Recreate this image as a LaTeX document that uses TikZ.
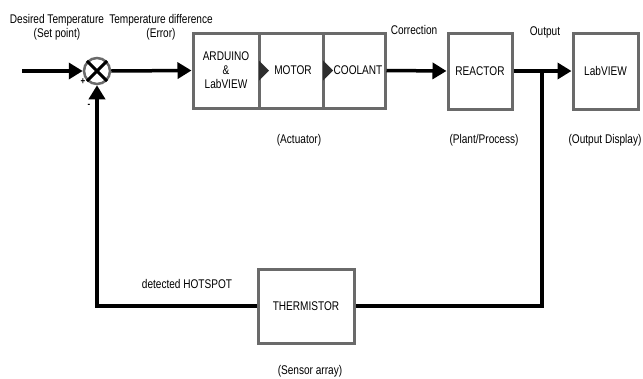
\documentclass[tikz,border=0pt]{standalone}
\usepackage{fontspec}
\setmainfont{Liberation Sans}[FakeStretch=0.8]
\usetikzlibrary{arrows.meta}
\definecolor{boxgrey}{HTML}{6A6A6A}
\definecolor{tipgrey}{HTML}{2E2E2E}
\newcommand{\lbl}{\fontsize{12.6}{14}\selectfont}
\tikzset{
  blk/.style={draw=boxgrey,line width=3pt,fill=white,inner sep=0pt,align=center,font=\lbl},
  sig/.style={line width=3.5pt,-{Triangle[length=14pt,width=16pt]}},
  wire/.style={line width=3.5pt},
  lbl/.style={font=\lbl,align=center,inner sep=0pt}
}

\begin{document}
\begin{tikzpicture}[x=1pt,y=-1pt]
\useasboundingbox (0,0) rectangle (643,378);
% summing junction
\node[draw=boxgrey,line width=2.5pt,circle,minimum size=26pt,inner sep=0pt] (sum) at (97,71) {};
\draw[line width=3pt] (sum.north west)--(sum.south east) (sum.north east)--(sum.south west);
% blocks
\node[blk,minimum width=66,minimum height=75] (ard) at (226,70.5) {ARDUINO\\\&\\LabVIEW};
\node[blk,minimum width=64,minimum height=75] (mot) at (291,70.5) {\hspace{4pt}MOTOR};
\node[blk,minimum width=62,minimum height=75] (cool) at (354,70.5) {\hspace{8pt}COOLANT};
\foreach \b in {mot,cool} \fill[tipgrey] ([xshift=1.5pt]\b.west) ++(0,-10) -- ++(10,10) -- ++(-10,10) -- cycle;
\node[blk,minimum width=64,minimum height=76] (reac) at (480,71) {REACTOR};
\node[blk,minimum width=65,minimum height=76] (disp) at (605.5,71) {LabVIEW};
\node[blk,minimum width=96,minimum height=74] (therm) at (306,306) {THERMISTOR};
% signals
\coordinate (in) at (22,71);
\coordinate (tap) at (542,71);
\draw[sig] (in) -- (sum.west);
\draw[sig] (sum.east) -- (ard.west);
\draw[sig] (cool.east) -- (reac.west);
\draw[sig] (reac.east) -- (disp.west);
\draw[wire] (tap) |- (therm.east);
\draw[sig] (therm.west) -| (sum.south);
% labels
\node[lbl] (sp) at (57,27) {Desired Temperature\\(Set point)};
\node[lbl] (err) at (161,27) {Temperature difference\\(Error)};
\node[lbl] (corr) at (414,30) {Correction};
\node[lbl] (out) at (545,32) {Output};
\node[lbl] (hot) at (187,284) {detected HOTSPOT};
\node[lbl] (actl) at (299,140) {(Actuator)};
\node[lbl] (plant) at (484,140) {(Plant/Process)};
\node[lbl] (odisp) at (605,140) {(Output Display)};
\node[lbl] (sens) at (310,371) {(Sensor array)};
\node[font=\fontsize{10}{10}\selectfont\bfseries,inner sep=0pt] (plus) at (83,82) {+};
\node[font=\fontsize{10}{10}\selectfont\bfseries,inner sep=0pt] (minus) at (89,106) {-};
\end{tikzpicture}
\end{document}
